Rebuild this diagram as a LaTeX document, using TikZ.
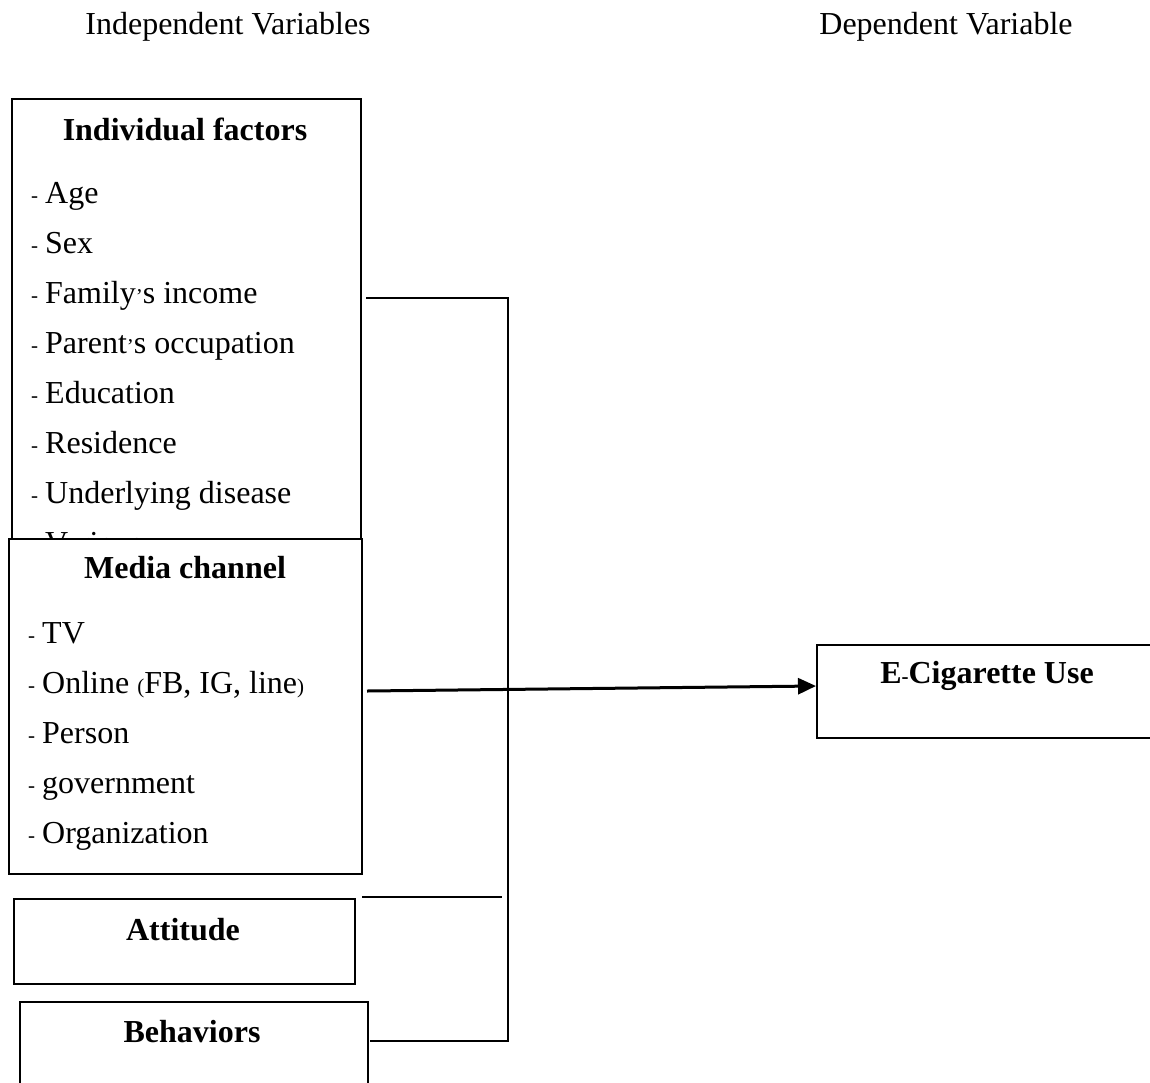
\documentclass[tikz,border=0pt]{standalone}
\usepackage{fontspec}
\setmainfont{Liberation Serif}
\usetikzlibrary{arrows.meta}
\newcommand\bigfs{\fontsize{32}{38}\selectfont}
\newcommand\smfs{\fontsize{21}{21}\selectfont}
\begin{document}
\begin{tikzpicture}[x=1pt,y=-1pt,
  box/.style={draw, line width=1.8pt, fill=white, anchor=north west, inner sep=0pt},
  hdr/.style={anchor=base, font=\bigfs\bfseries, inner sep=0pt},
  itm/.style={anchor=base west, font=\bigfs, inner sep=0pt},
  dsh/.style={anchor=base west, font=\smfs, inner sep=0pt},
  ttl/.style={anchor=base, font=\bigfs, inner sep=0pt},
  conn/.style={line width=1.3pt},
  arr/.style={line width=3pt, -{Triangle[length=18pt,width=16pt]}}]
\useasboundingbox (0,0) rectangle (1150,1082);
\clip (0,0) rectangle (1150,1082);
% titles
\node[ttl] (tind) at (228,34) {Independent Variables};
\node[ttl] (tdep) at (946,34) {Dependent Variable};
% Individual factors box
\node[box, minimum width=349pt, minimum height=500pt] (indiv) at (11,98) {};
\node[hdr] (indh) at (185,140) {Individual factors};
\foreach \y/\t [count=\i] in {203/Age, 253/Sex, 303/{Family{\smfs'}s income}, 353/{Parent{\smfs'}s occupation}, 403/Education, 453/Residence, 503/Underlying disease}{
  \node[dsh] (indd\i) at (31,\y-1) {-};
  \node[itm] (indi\i) at (45,\y) {\t};
}
\begin{scope}
\clip (0,0) rectangle (1150,537);
\node[dsh] (indd8) at (31,552) {-};
\node[itm] (indi8) at (45,553) {Various};
\end{scope}
% Media channel box
\node[box, minimum width=353pt, minimum height=335pt] (media) at (8,538) {};
\node[hdr] (medh) at (185,578) {Media channel};
\foreach \y/\t [count=\i] in {643/TV, 693/{Online {\smfs(}FB, IG, line{\smfs)}}, 743/Person, 793/government, 843/Organization}{
  \node[dsh] (medd\i) at (28,\y-1) {-};
  \node[itm] (medi\i) at (42,\y) {\t};
}
% Attitude
\node[box, minimum width=341pt, minimum height=85pt] (att) at (13,898) {};
\node[hdr] (atth) at (183,940) {Attitude};
% Behaviors
\node[box, minimum width=348pt, minimum height=110pt] (beh) at (19,1001) {};
\node[hdr] (behh) at (192,1042) {Behaviors};
% E-Cigarette Use
\node[box, minimum width=360pt, minimum height=93pt] (ecig) at (816,644) {};
\node[hdr] (ecigh) at (987,683) {E{\smfs-}Cigarette Use};
% connectors
\coordinate (c1a) at (366,298);
\coordinate (c1b) at (508,298);
\coordinate (c4a) at (370,1041);
\coordinate (c4b) at (508,1041);
\coordinate (c3a) at (362,897);
\coordinate (c3b) at (502,897);
\coordinate (arS) at (367,691);
\coordinate (arE) at (ecig.west |- 0,686);
\draw[conn] (c1a) -- (c1b) -- (c4b) -- (c4a);
\draw[conn] (c3a) -- (c3b);
\draw[arr] (arS) -- (arE);
\end{tikzpicture}
\end{document}
